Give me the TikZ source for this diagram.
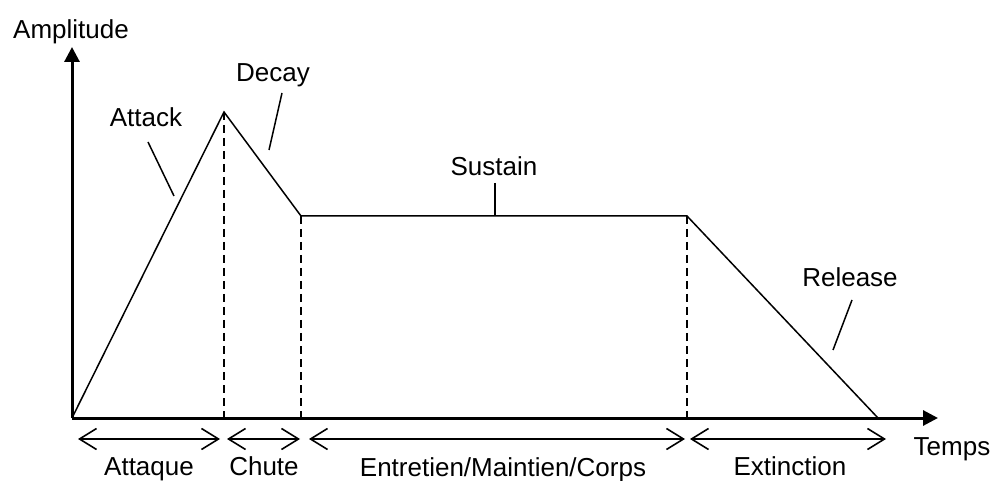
\documentclass[tikz,border=0pt]{standalone}
\usepackage{fontspec}
\setmainfont{Liberation Sans}
\usetikzlibrary{arrows.meta}
\begin{document}
\begin{tikzpicture}[x=1pt,y=-1pt,
  lbl/.style={anchor=base,inner sep=0pt,font=\fontsize{26}{30}\selectfont},
  axis/.style={line width=3pt,-{Triangle[length=15pt,width=15pt]}},
  env/.style={line width=1.5pt,line join=miter},
  guide/.style={line width=2pt,dash pattern=on 8pt off 5pt},
  leader/.style={line width=1.5pt},
  span/.style={line width=1.6pt,{Straight Barb[length=17pt,width=21pt]}-{Straight Barb[length=17pt,width=21pt]}}]
\useasboundingbox (0,0) rectangle (994,481);
% key points
\coordinate (O) at (72,418);
\coordinate (ytip) at (72,47);
\coordinate (xtip) at (938,418);
\coordinate (P) at (224,112);
\coordinate (D) at (301,216);
\coordinate (S) at (687,216);
\coordinate (R) at (878,418);
\coordinate (Pb) at (224,418);
\coordinate (Db) at (301,418);
\coordinate (Sb) at (687,418);
% axes
\draw[axis] (O) -- (ytip);
\draw[axis] (O) -- (xtip);
% envelope
\draw[env] (O) -- (P) -- (D) -- (S) -- (R);
% dashed guides
\draw[guide] (P) -- (Pb);
\draw[guide] (D) -- (Db);
\draw[guide] (S) -- (Sb);
% labels
\node[lbl] (amp) at (71,39) {Amplitude};
\node[lbl] (attack) at (146,127) {Attack};
\node[lbl] (decay) at (273,82) {Decay};
\node[lbl] (sustain) at (494,176) {Sustain};
\node[lbl] (release) at (850,287) {Release};
\node[lbl] (temps) at (952,455) {Temps};
% leaders
\coordinate (a1) at (148,142); \coordinate (a2) at (174,196);
\coordinate (d1) at (282,93);  \coordinate (d2) at (269,150);
\coordinate (s1) at (495,183); \coordinate (s2) at (495,215);
\coordinate (r1) at (852,300); \coordinate (r2) at (833,350);
\draw[leader] (a1) -- (a2);
\draw[leader] (d1) -- (d2);
\draw[leader] (s1) -- (s2);
\draw[leader] (r1) -- (r2);
% spans
\coordinate (b1) at (78,439);  \coordinate (b2) at (220,439);
\coordinate (b3) at (227,439); \coordinate (b4) at (300,439);
\coordinate (b5) at (309,439); \coordinate (b6) at (685,439);
\coordinate (b7) at (690,439); \coordinate (b8) at (886,439);
\draw[span] (b1) -- (b2);
\draw[span] (b3) -- (b4);
\draw[span] (b5) -- (b6);
\draw[span] (b7) -- (b8);
\node[lbl] (attaque) at (149,475) {Attaque};
\node[lbl] (chute) at (264,475) {Chute};
\node[lbl] (entretien) at (503,476) {Entretien/Maintien/Corps};
\node[lbl] (extinction) at (790,475) {Extinction};
\end{tikzpicture}
\end{document}
